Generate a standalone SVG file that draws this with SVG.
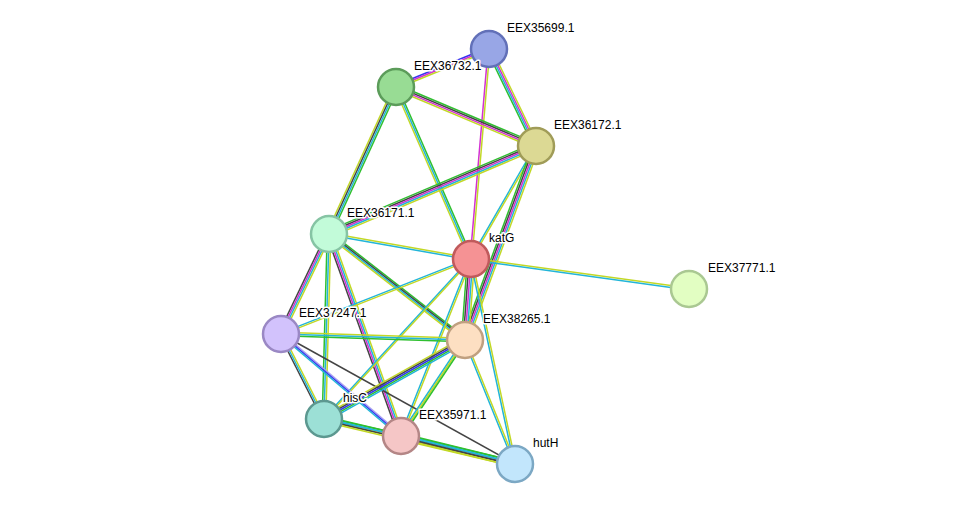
<svg xmlns="http://www.w3.org/2000/svg" xmlns:xlink="http://www.w3.org/1999/xlink" width="975" height="510" viewBox="0 0 975 510">
<style>
.g{stroke:#2fbf2f}.c{stroke:#22b5d8}.m{stroke:#d22fd2}.k{stroke:#444}.y{stroke:#c2d826}.b{stroke:#3535f0}.l{stroke:#a8a0f0}
use{stroke-width:1.5;fill:none}
.n{stroke-width:2.5}
text{font-family:"Liberation Sans",Arial,sans-serif;font-size:12px;fill:#000;stroke:#fff;stroke-width:3px;paint-order:stroke;stroke-linejoin:round}
</style>
<defs>
<line id="AB" x1="489" y1="49" x2="396" y2="87"/>
<line id="AC" x1="489" y1="49" x2="536" y2="146"/>
<line id="AK" x1="489" y1="49" x2="471" y2="259"/>
<line id="BC" x1="396" y1="87" x2="536" y2="146"/>
<line id="BD" x1="396" y1="87" x2="329" y2="234"/>
<line id="BK" x1="396" y1="87" x2="471" y2="259"/>
<line id="CD" x1="536" y1="146" x2="329" y2="234"/>
<line id="CK" x1="536" y1="146" x2="471" y2="259"/>
<line id="CG" x1="536" y1="146" x2="465" y2="340"/>
<line id="DK" x1="329" y1="234" x2="471" y2="259"/>
<line id="DF" x1="329" y1="234" x2="281" y2="334"/>
<line id="DH" x1="329" y1="234" x2="324" y2="419"/>
<line id="DI" x1="329" y1="234" x2="401" y2="436"/>
<line id="DG" x1="329" y1="234" x2="465" y2="340"/>
<line id="KE" x1="471" y1="259" x2="689" y2="289"/>
<line id="KF" x1="471" y1="259" x2="281" y2="334"/>
<line id="KG" x1="471" y1="259" x2="465" y2="340"/>
<line id="KH" x1="471" y1="259" x2="324" y2="419"/>
<line id="KI" x1="471" y1="259" x2="401" y2="436"/>
<line id="KJ" x1="471" y1="259" x2="515" y2="464"/>
<line id="FG" x1="281" y1="334" x2="465" y2="340"/>
<line id="FH" x1="281" y1="334" x2="324" y2="419"/>
<line id="FI" x1="281" y1="334" x2="401" y2="436"/>
<line id="FJ" x1="281" y1="334" x2="515" y2="464"/>
<line id="GH" x1="465" y1="340" x2="324" y2="419"/>
<line id="GI" x1="465" y1="340" x2="401" y2="436"/>
<line id="GJ" x1="465" y1="340" x2="515" y2="464"/>
<line id="HI" x1="324" y1="419" x2="401" y2="436"/>
<line id="HJ" x1="324" y1="419" x2="515" y2="464"/>
<line id="IJ" x1="401" y1="436" x2="515" y2="464"/>
</defs>
<g id="edges">
<use href="#AB" class="b" transform="translate(0,-1.8)"/><use href="#AB" class="m" transform="translate(0,0)"/><use href="#AB" class="y" transform="translate(0,1.8)"/>
<use href="#AC" class="g" transform="translate(-2.7,0)"/><use href="#AC" class="c" transform="translate(-0.9,0)"/><use href="#AC" class="m" transform="translate(0.9,0)"/><use href="#AC" class="y" transform="translate(2.7,0)"/>
<use href="#AK" class="m" transform="translate(-0.9,0)"/><use href="#AK" class="y" transform="translate(0.9,0)"/>
<use href="#BC" class="g" transform="translate(0,-2.7)"/><use href="#BC" class="k" transform="translate(0,-0.9)"/><use href="#BC" class="m" transform="translate(0,0.9)"/><use href="#BC" class="y" transform="translate(0,2.7)"/>
<use href="#BD" class="y" transform="translate(-2.7,0)"/><use href="#BD" class="k" transform="translate(-0.9,0)"/><use href="#BD" class="c" transform="translate(0.9,0)"/><use href="#BD" class="g" transform="translate(2.7,0)"/>
<use href="#BK" class="y" transform="translate(-1.8,0)"/><use href="#BK" class="c" transform="translate(0,0)"/><use href="#BK" class="g" transform="translate(1.8,0)"/>
<use href="#CD" class="g" transform="translate(0,-3.6)"/><use href="#CD" class="k" transform="translate(0,-1.8)"/><use href="#CD" class="m" transform="translate(0,0)"/><use href="#CD" class="c" transform="translate(0,1.8)"/><use href="#CD" class="y" transform="translate(0,3.6)"/>
<use href="#CK" class="c" transform="translate(-0.9,0)"/><use href="#CK" class="y" transform="translate(0.9,0)"/>
<use href="#CG" class="g" transform="translate(-3.6,0)"/><use href="#CG" class="k" transform="translate(-1.8,0)"/><use href="#CG" class="m" transform="translate(0,0)"/><use href="#CG" class="c" transform="translate(1.8,0)"/><use href="#CG" class="y" transform="translate(3.6,0)"/>
<use href="#DK" class="y" transform="translate(0,-0.9)"/><use href="#DK" class="c" transform="translate(0,0.9)"/>
<use href="#DF" class="k" transform="translate(-2.7,0)"/><use href="#DF" class="m" transform="translate(-0.9,0)"/><use href="#DF" class="c" transform="translate(0.9,0)"/><use href="#DF" class="y" transform="translate(2.7,0)"/>
<use href="#DH" class="g" transform="translate(-1.8,0)"/><use href="#DH" class="c" transform="translate(0,0)"/><use href="#DH" class="y" transform="translate(1.8,0)"/>
<use href="#DI" class="k" transform="translate(-2.7,0)"/><use href="#DI" class="m" transform="translate(-0.9,0)"/><use href="#DI" class="c" transform="translate(0.9,0)"/><use href="#DI" class="y" transform="translate(2.7,0)"/>
<use href="#DG" class="g" transform="translate(0,-2.7)"/><use href="#DG" class="k" transform="translate(0,-0.9)"/><use href="#DG" class="c" transform="translate(0,0.9)"/><use href="#DG" class="y" transform="translate(0,2.7)"/>
<use href="#KE" class="y" transform="translate(0,-0.9)"/><use href="#KE" class="c" transform="translate(0,0.9)"/>
<use href="#KF" class="c" transform="translate(0,-0.9)"/><use href="#KF" class="y" transform="translate(0,0.9)"/>
<use href="#KG" class="g" transform="translate(-3.6,0)"/><use href="#KG" class="k" transform="translate(-1.8,0)"/><use href="#KG" class="m" transform="translate(0,0)"/><use href="#KG" class="c" transform="translate(1.8,0)"/><use href="#KG" class="y" transform="translate(3.6,0)"/>
<use href="#KH" class="c" transform="translate(-0.9,0)"/><use href="#KH" class="y" transform="translate(0.9,0)"/>
<use href="#KI" class="c" transform="translate(-0.9,0)"/><use href="#KI" class="y" transform="translate(0.9,0)"/>
<use href="#KJ" class="c" transform="translate(-0.9,0)"/><use href="#KJ" class="y" transform="translate(0.9,0)"/>
<use href="#FG" class="y" transform="translate(0,-1.8)"/><use href="#FG" class="c" transform="translate(0,0)"/><use href="#FG" class="g" transform="translate(0,1.8)"/>
<use href="#FH" class="k" transform="translate(-1.8,0)"/><use href="#FH" class="c" transform="translate(0,0)"/><use href="#FH" class="y" transform="translate(1.8,0)"/>
<use href="#FI" class="l" transform="translate(0,-1.8)"/><use href="#FI" class="b" transform="translate(0,0)"/><use href="#FI" class="c" transform="translate(0,1.8)"/>
<use href="#FJ" class="k"/>
<use href="#GH" class="y" transform="translate(0,-3.6)"/><use href="#GH" class="k" transform="translate(0,-1.8)"/><use href="#GH" class="b" transform="translate(0,0)"/><use href="#GH" class="g" transform="translate(0,1.8)"/><use href="#GH" class="c" transform="translate(0,3.6)"/>
<use href="#GI" class="c" transform="translate(-1.8,0)"/><use href="#GI" class="y" transform="translate(0,0)"/><use href="#GI" class="g" transform="translate(1.8,0)"/>
<use href="#GJ" class="c" transform="translate(-0.9,0)"/><use href="#GJ" class="y" transform="translate(0.9,0)"/>
<use href="#HI" class="g" transform="translate(0,-1.8)"/><use href="#HI" class="c" transform="translate(0,0)"/><use href="#HI" class="y" transform="translate(0,1.8)"/>
<use href="#HJ" class="g" transform="translate(0,-2.7)"/><use href="#HJ" class="c" transform="translate(0,-0.9)"/><use href="#HJ" class="k" transform="translate(0,0.9)"/><use href="#HJ" class="y" transform="translate(0,2.7)"/>
<use href="#IJ" class="g" transform="translate(0,-2.7)"/><use href="#IJ" class="c" transform="translate(0,-0.9)"/><use href="#IJ" class="k" transform="translate(0,0.9)"/><use href="#IJ" class="y" transform="translate(0,2.7)"/>
</g>
<g id="EEX35699.1"><circle class="n" cx="489" cy="49" r="18" fill="#98a6e6" stroke="#6270b8"/><text x="507" y="32">EEX35699.1</text></g>
<g id="EEX36732.1"><circle class="n" cx="396" cy="87" r="18" fill="#98dc94" stroke="#5c9c5a"/><text x="414" y="70">EEX36732.1</text></g>
<g id="EEX36172.1"><circle class="n" cx="536" cy="146" r="18" fill="#dcd994" stroke="#a09c58"/><text x="554" y="129">EEX36172.1</text></g>
<g id="EEX36171.1"><circle class="n" cx="329" cy="234" r="18" fill="#c2fbd9" stroke="#86c4a4"/><text x="347" y="217">EEX36171.1</text></g>
<g id="katG"><circle class="n" cx="471" cy="259" r="18" fill="#f59294" stroke="#c05a5c"/><text x="489" y="242">katG</text></g>
<g id="EEX37771.1"><circle class="n" cx="689" cy="289" r="18" fill="#e2fec2" stroke="#aac892"/><text x="708" y="272">EEX37771.1</text></g>
<g id="EEX37247.1"><circle class="n" cx="281" cy="334" r="18" fill="#d2c2fc" stroke="#9a88c4"/><text x="299" y="317">EEX37247.1</text></g>
<g id="EEX38265.1"><circle class="n" cx="465" cy="340" r="18" fill="#fddfc2" stroke="#c0a080"/><text x="483" y="323">EEX38265.1</text></g>
<g id="hisC"><circle class="n" cx="324" cy="419" r="18" fill="#9ce0d6" stroke="#5c9890"/><text x="343" y="402">hisC</text></g>
<g id="EEX35971.1"><circle class="n" cx="401" cy="436" r="18" fill="#f5c6c6" stroke="#b48686"/><text x="419" y="419">EEX35971.1</text></g>
<g id="hutH"><circle class="n" cx="515" cy="464" r="18" fill="#c2e6fc" stroke="#7ca8c4"/><text x="533" y="447">hutH</text></g>
</svg>
